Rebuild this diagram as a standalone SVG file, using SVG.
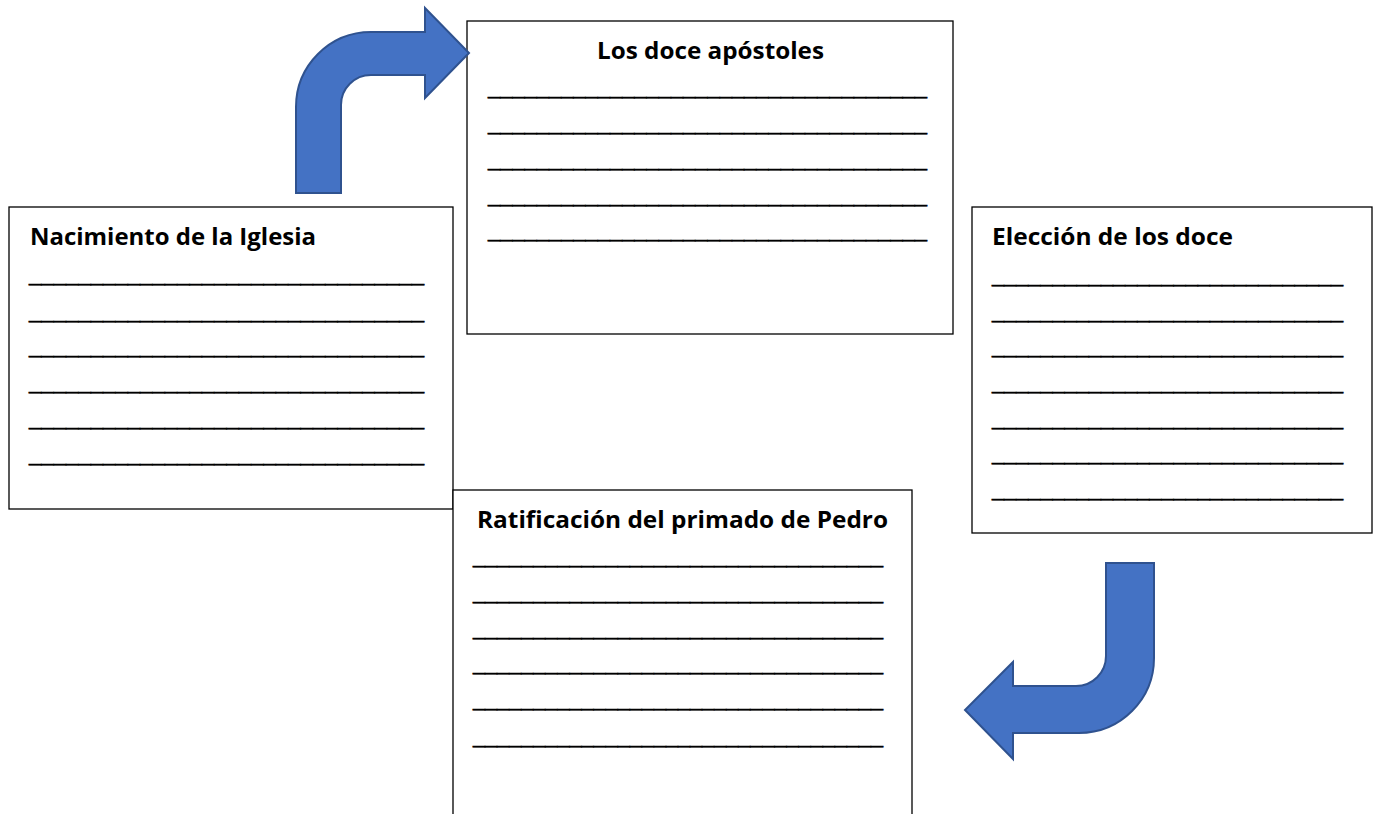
<svg xmlns="http://www.w3.org/2000/svg" width="1378" height="814" viewBox="0 0 1378 814">
<style>
.box{fill:#fff;stroke:#000;stroke-width:1.3}
.title{font-family:"Open Sans","Liberation Sans",sans-serif;font-weight:bold;font-size:24px;fill:#000}
.blank{font-family:"Liberation Sans",sans-serif;font-size:22px;fill:#000;stroke:#000;stroke-width:0.5}
.arrow{fill:#4472C4;stroke:#2F528F;stroke-width:2;stroke-linejoin:miter}
</style>
<rect width="1378" height="814" fill="#fff"/>
<g id="node-nacimiento">
<rect class="box" x="9" y="207" width="444" height="302"/>
<text class="title" x="30" y="245" textLength="286" lengthAdjust="spacingAndGlyphs">Nacimiento de la Iglesia</text>
<text class="blank" x="29" y="281" textLength="395" lengthAdjust="spacingAndGlyphs">________________________________</text>
<text class="blank" x="29" y="318" textLength="395" lengthAdjust="spacingAndGlyphs">________________________________</text>
<text class="blank" x="29" y="353" textLength="395" lengthAdjust="spacingAndGlyphs">________________________________</text>
<text class="blank" x="29" y="389" textLength="395" lengthAdjust="spacingAndGlyphs">________________________________</text>
<text class="blank" x="29" y="425" textLength="395" lengthAdjust="spacingAndGlyphs">________________________________</text>
<text class="blank" x="29" y="461" textLength="395" lengthAdjust="spacingAndGlyphs">________________________________</text>
</g>
<g id="node-ratificacion">
<rect class="box" x="453" y="490" width="459" height="340"/>
<text class="title" x="477" y="528" textLength="411" lengthAdjust="spacingAndGlyphs">Ratificación del primado de Pedro</text>
<text class="blank" x="473" y="563" textLength="410" lengthAdjust="spacingAndGlyphs">__________________________________</text>
<text class="blank" x="473" y="599" textLength="410" lengthAdjust="spacingAndGlyphs">__________________________________</text>
<text class="blank" x="473" y="635" textLength="410" lengthAdjust="spacingAndGlyphs">__________________________________</text>
<text class="blank" x="473" y="670" textLength="410" lengthAdjust="spacingAndGlyphs">__________________________________</text>
<text class="blank" x="473" y="706" textLength="410" lengthAdjust="spacingAndGlyphs">__________________________________</text>
<text class="blank" x="473" y="743" textLength="410" lengthAdjust="spacingAndGlyphs">__________________________________</text>
</g>
<g id="node-apostoles">
<rect class="box" x="467" y="21" width="486" height="313"/>
<text class="title" x="597" y="59" textLength="227" lengthAdjust="spacingAndGlyphs">Los doce apóstoles</text>
<text class="blank" x="488" y="94" textLength="439" lengthAdjust="spacingAndGlyphs">____________________________________</text>
<text class="blank" x="488" y="130" textLength="439" lengthAdjust="spacingAndGlyphs">____________________________________</text>
<text class="blank" x="488" y="166" textLength="439" lengthAdjust="spacingAndGlyphs">____________________________________</text>
<text class="blank" x="488" y="202" textLength="439" lengthAdjust="spacingAndGlyphs">____________________________________</text>
<text class="blank" x="488" y="237" textLength="439" lengthAdjust="spacingAndGlyphs">____________________________________</text>
</g>
<g id="node-eleccion">
<rect class="box" x="972" y="207" width="400" height="326"/>
<text class="title" x="992" y="245" textLength="241" lengthAdjust="spacingAndGlyphs">Elección de los doce</text>
<text class="blank" x="992" y="282" textLength="351" lengthAdjust="spacingAndGlyphs">_____________________________</text>
<text class="blank" x="992" y="318" textLength="351" lengthAdjust="spacingAndGlyphs">_____________________________</text>
<text class="blank" x="992" y="353" textLength="351" lengthAdjust="spacingAndGlyphs">_____________________________</text>
<text class="blank" x="992" y="389" textLength="351" lengthAdjust="spacingAndGlyphs">_____________________________</text>
<text class="blank" x="992" y="425" textLength="351" lengthAdjust="spacingAndGlyphs">_____________________________</text>
<text class="blank" x="992" y="460" textLength="351" lengthAdjust="spacingAndGlyphs">_____________________________</text>
<text class="blank" x="992" y="496" textLength="351" lengthAdjust="spacingAndGlyphs">_____________________________</text>
</g>
<g id="connectors">
<path class="arrow" d="M296,193 L296,107 A75,75 0 0 1 371,32 L425,32 L425,8 L469,53 L425,98 L425,75 L371,75 A30,30 0 0 0 341,105 L341,193 Z"/>
<path class="arrow" d="M1106,563 L1154,563 L1154,658 A75,75 0 0 1 1079,733 L1013,733 L1013,759 L965,710 L1013,662 L1013,686 L1076,686 A30,30 0 0 0 1106,656 Z"/>
</g>
</svg>
